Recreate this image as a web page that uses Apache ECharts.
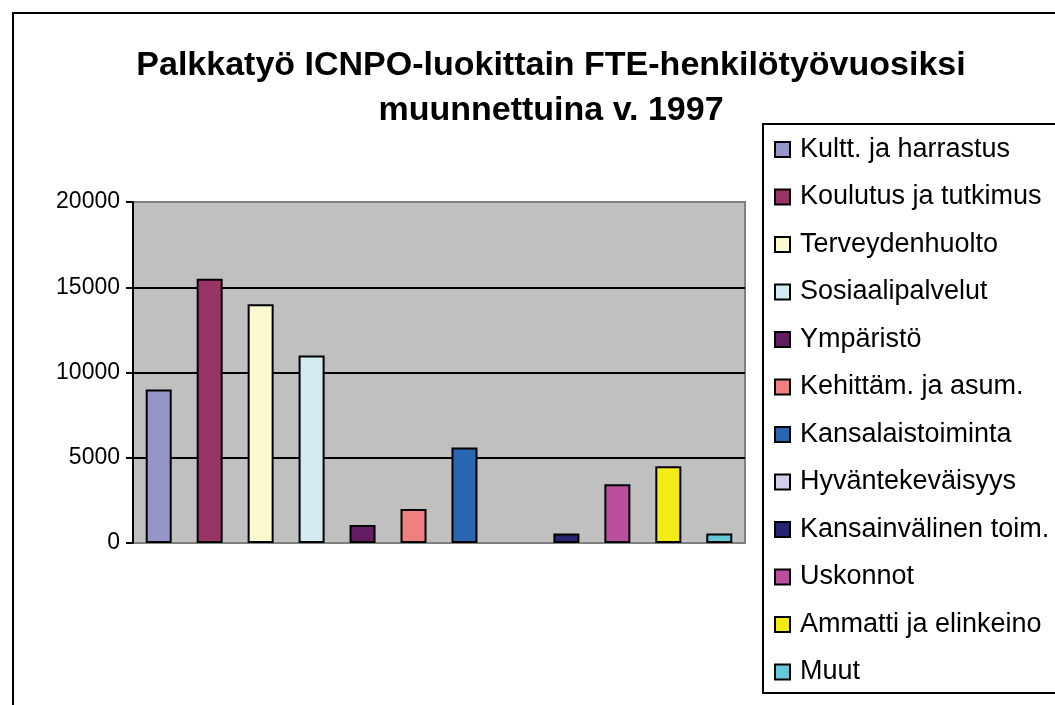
<!DOCTYPE html>
<html>
<head>
<meta charset="utf-8">
<script src="https://cdn.jsdelivr.net/npm/echarts@6/dist/echarts.min.js"></script>
<style>
  html, body { margin: 0; padding: 0; background: #fff; }
  #chart { width: 1055px; height: 705px; }
</style>
</head>
<body>
<div id="chart"></div>
<script>
// sarjat (ICNPO-luokat), arvot FTE-henkilötyövuosina
const seriesNames = [
  'Kultt. ja harrastus', 'Koulutus ja tutkimus', 'Terveydenhuolto', 'Sosiaalipalvelut',
  'Ympäristö', 'Kehittäm. ja asum.', 'Kansalaistoiminta', 'Hyväntekeväisyys',
  'Kansainvälinen toim.', 'Uskonnot', 'Ammatti ja elinkeino', 'Muut'
]
const seriesValues = [9000, 15500, 14000, 11000, 1050, 2000, 5600, 0, 550, 3450, 4500, 550]
const seriesColors = [
  '#9595c9', '#993366', '#fbf9cf', '#d3ecf3', '#641d64', '#f08080',
  '#2a67b3', '#d0d0e8', '#262670', '#b94f9d', '#f3eb16', '#66c9d9'
]
const categories = ['1997']
const yTicks = { min: 0, max: 20000, interval: 5000 }

const font = '"Liberation Sans", Arial, sans-serif'

const series = seriesNames.map((name, i) => ({
  name: name,
  type: 'bar',
  barWidth: 26,
  barGap: '96%',
  itemStyle: {
    color: seriesColors[i],
    borderColor: '#000',
    borderWidth: 2
  },
  // zero value: no outline drawn (Excel shows nothing)
  data: [{ value: seriesValues[i], itemStyle: { borderWidth: seriesValues[i] ? 2 : 0 } }]
}))

const option = {
  backgroundColor: '#fff',
  animation: false,
  title: {
    text: 'Palkkatyö ICNPO-luokittain FTE-henkilötyövuosiksi\nmuunnettuina v. 1997',
    left: 546,
    top: 38,
    textAlign: 'center',
    textStyle: {
      fontFamily: font,
      fontWeight: 'bold',
      fontSize: 34,
      lineHeight: 45,
      color: '#000'
    }
  },
  legend: {
    orient: 'vertical',
    left: 774,
    top: 136,
    padding: 0,
    itemWidth: 15,
    itemHeight: 15,
    itemGap: 20.5,
    icon: 'rect',
    textStyle: {
      fontFamily: font,
      fontSize: 27,
      lineHeight: 26,
      color: '#000',
      padding: [0, 0, 0, 5]
    }
  },
  graphic: [
    {
      type: 'rect',
      shape: { x: 13, y: 13, width: 1100, height: 760 },
      style: { fill: 'none', stroke: '#000', lineWidth: 2 },
      silent: true
    },
    {
      type: 'rect',
      shape: { x: 763, y: 124, width: 400, height: 569 },
      style: { fill: 'none', stroke: '#000', lineWidth: 2 },
      silent: true
    }
  ],
  grid: {
    left: 133,
    right: 310,
    top: 202,
    bottom: 162,
    show: true,
    backgroundColor: '#c0c0c0',
    borderColor: '#808080',
    borderWidth: 2
  },
  xAxis: {
    type: 'category',
    data: categories,
    axisLine: { show: false },
    axisTick: { show: false },
    axisLabel: { show: false }
  },
  yAxis: {
    type: 'value',
    min: yTicks.min,
    max: yTicks.max,
    interval: yTicks.interval,
    axisLine: { show: true, lineStyle: { color: '#000', width: 2 } },
    axisTick: { show: true, length: 7, lineStyle: { color: '#000', width: 2 } },
    axisLabel: {
      fontFamily: font,
      fontSize: 23,
      color: '#000',
      margin: 13,
      formatter: (v) => String(v)
    },
    splitLine: {
      show: true,
      showMinLine: false,
      showMaxLine: false,
      lineStyle: { color: '#000', width: 2 }
    }
  },
  series: series
}

const chart = echarts.init(document.getElementById('chart'))
chart.setOption(option)
</script>
</body>
</html>
